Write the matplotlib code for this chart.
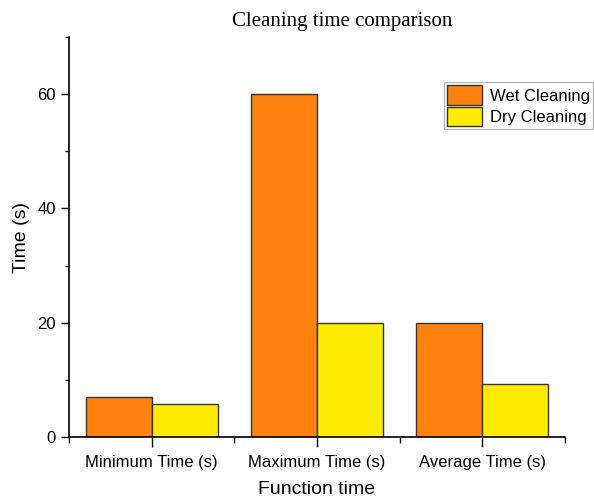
import numpy as np
import matplotlib
matplotlib.use("Agg")
import matplotlib.pyplot as plt
from matplotlib.ticker import MultipleLocator, FixedLocator

# Data
categories = ["Minimum Time (s)", "Maximum Time (s)", "Average Time (s)"]
wet_cleaning = [7.0, 60.0, 20.0]
dry_cleaning = [5.8, 20.0, 9.2]

C_WET = '#FF8210'
C_DRY = '#FFED00'

plt.rcParams.update({
    'font.family': ['Liberation Sans', 'DejaVu Sans'],
    'axes.edgecolor': 'black',
    'xtick.color': 'black',
    'ytick.color': 'black',
})

fig = plt.figure(figsize=(5.94, 5.01), dpi=100)
ax = fig.add_axes([0.1162, 0.1277, 0.951 - 0.1162, 0.926 - 0.1277])

x = np.arange(len(categories))
w = 0.4
ax.bar(x - w / 2, wet_cleaning, width=w, color=C_WET, edgecolor='#333333',
       linewidth=1.0, label='Wet Cleaning', zorder=2)
ax.bar(x + w / 2, dry_cleaning, width=w, color=C_DRY, edgecolor='#333333',
       linewidth=1.0, label='Dry Cleaning', zorder=2)

ax.set_xlim(-0.5, 2.5)
ax.set_ylim(0, 70)
ax.set_xticks(x)
ax.set_xticklabels(categories, fontsize=12)
ax.xaxis.set_minor_locator(FixedLocator([-0.5, 0.5, 1.5, 2.5]))
ax.yaxis.set_major_locator(MultipleLocator(20))
ax.yaxis.set_minor_locator(MultipleLocator(10))
ax.tick_params(axis='y', which='major', labelsize=12, length=6, width=1)
ax.tick_params(axis='y', which='minor', length=3, width=1)
ax.tick_params(axis='x', which='major', length=7, width=1, pad=6)
ax.tick_params(axis='x', which='minor', length=4, width=1)

for side in ('top', 'right'):
    ax.spines[side].set_visible(False)
for side in ('left', 'bottom'):
    ax.spines[side].set_linewidth(1.2)

ax.set_xlabel('Function time', fontsize=14, labelpad=8)
ax.set_ylabel('Time (s)', fontsize=14, labelpad=5)

fig.text(0.576, 0.958, 'Cleaning time comparison', ha='center', va='center',
         fontsize=15, family=['Liberation Serif', 'DejaVu Serif'])

leg = ax.legend(loc='upper right', bbox_to_anchor=(593 / 594, (501 - 82) / 501),
                bbox_transform=fig.transFigure, fontsize=12, frameon=True,
                fancybox=False, borderaxespad=0, handlelength=2.1,
                handleheight=1.4, handletextpad=0.45, labelspacing=0.12,
                borderpad=0.2)
leg.get_frame().set_edgecolor('#999999')
leg.get_frame().set_linewidth(0.8)

fig.savefig('out.png', dpi=100)
plt.close()
